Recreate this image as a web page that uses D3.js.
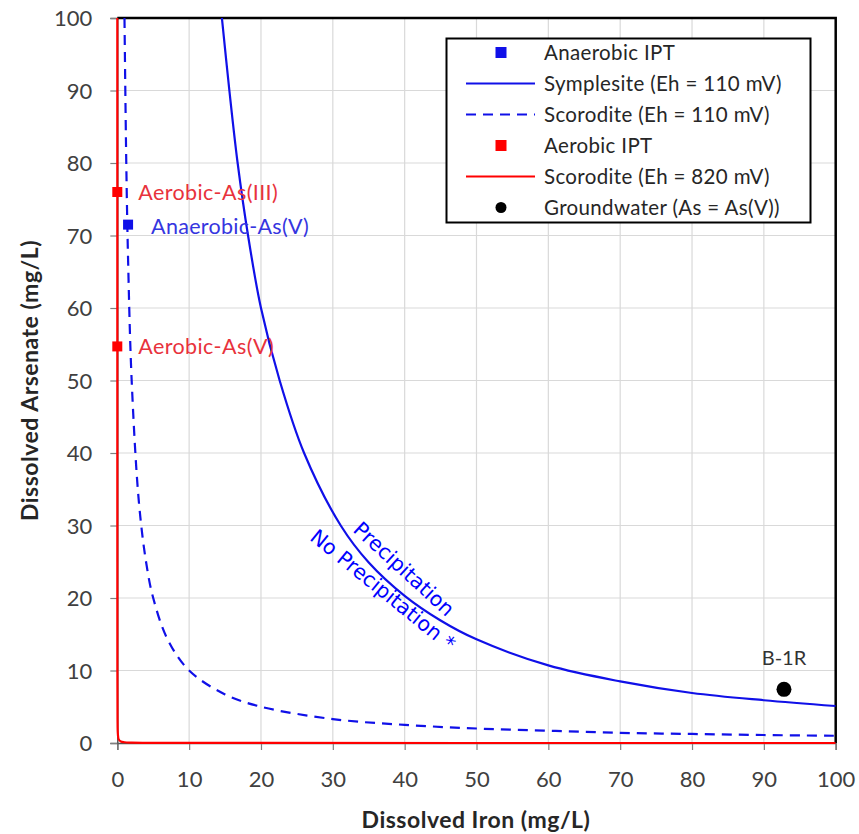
<!DOCTYPE html>
<html>
<head>
<meta charset="utf-8">
<script src="https://cdn.jsdelivr.net/npm/d3@7"></script>
<style>
  html, body { margin: 0; padding: 0; background: #fff; }
  svg { display: block; }
</style>
</head>
<body>
<div id="chart"></div>
<script>
// Solubility curves: dissolved iron (x) vs. dissolved arsenate (y), mg/L
const symplesiteFe = [14.56, 15.6, 16.75, 18.2, 20.0, 22.6, 26.0, 31.1, 35, 40, 45, 50, 60, 70, 80, 90, 100];
const symplesiteAs = [100, 90, 80, 70, 60, 50, 40, 30, 24.9, 20.3, 16.9, 14.3, 10.7, 8.5, 6.9, 5.9, 5.1];

const scorodite110Fe = [1, 1.25, 1.5, 2, 3, 4, 5, 7, 10, 15, 20, 30, 40, 50, 60, 70, 80, 90, 100];
const scorodite110As = [100, 80, 66.7, 50, 33.3, 25, 20, 14.3, 10, 6.7, 5, 3.3, 2.5, 2, 1.7, 1.4, 1.25, 1.1, 1.0];

const scorodite820Fe = [0.001, 0.0015, 0.002, 0.004, 0.01, 0.03, 0.08, 0.2, 0.5, 1, 2, 5, 10, 20, 50, 100];
const scorodite820As = [100, 66.7, 50, 25, 10, 3.3, 1.25, 0.5, 0.2, 0.1, 0.05, 0.02, 0.01, 0.005, 0.002, 0.001];

// Measured samples
const anaerobicNames = ["Anaerobic-As(V)"];
const anaerobicFe = [1.5];
const anaerobicAs = [71.5];

const aerobicNames = ["Aerobic-As(III)", "Aerobic-As(V)"];
const aerobicFe = [0, 0];
const aerobicAs = [76, 54.7];

const groundwaterNames = ["B-1R"];
const groundwaterFe = [92.8];
const groundwaterAs = [7.4];

const xTicks = [0, 10, 20, 30, 40, 50, 60, 70, 80, 90, 100];
const yTicks = [0, 10, 20, 30, 40, 50, 60, 70, 80, 90, 100];

const legendLabels = [
  "Anaerobic IPT",
  "Symplesite (Eh = 110 mV)",
  "Scorodite (Eh = 110 mV)",
  "Aerobic IPT",
  "Scorodite (Eh = 820 mV)",
  "Groundwater (As = As(V))"
];

const W = 859, H = 834;
const pLeft = 117.3, pRight = 835.7, pTop = 18, pBottom = 743;

const BLUE = "#1010e8";
const RED = "#ff0000";
const FONT = "Lato, 'Open Sans', sans-serif";

const svg = d3.select("#chart").append("svg")
  .attr("width", W).attr("height", H)
  .style("font-family", FONT);

const x = d3.scaleLinear().domain([0, 100]).range([pLeft, pRight]);
const y = d3.scaleLinear().domain([0, 100]).range([pBottom, pTop]);

// Grid
const grid = svg.append("g").attr("stroke", "#d9d9d9").attr("stroke-width", 1.2);
grid.selectAll("line.v").data(xTicks.slice(1, -1)).join("line")
  .attr("x1", d => x(d)).attr("x2", d => x(d))
  .attr("y1", pTop).attr("y2", pBottom);
grid.selectAll("line.h").data(yTicks.slice(1, -1)).join("line")
  .attr("x1", pLeft).attr("x2", pRight)
  .attr("y1", d => y(d)).attr("y2", d => y(d));

// Axes
const xAxis = svg.append("g").attr("transform", `translate(0,${pBottom})`)
  .call(d3.axisBottom(x).tickValues(xTicks).tickSize(7).tickPadding(21));
const yAxis = svg.append("g").attr("transform", `translate(${pLeft},0)`)
  .call(d3.axisLeft(y).tickValues(yTicks).tickSize(7).tickPadding(18));
[xAxis, yAxis].forEach(a => {
  a.select(".domain").attr("stroke", "#555").attr("stroke-width", 1.5);
  a.selectAll(".tick line").attr("stroke", "#808080").attr("stroke-width", 1.2);
  a.selectAll(".tick text").attr("fill", "#404040")
    .style("font-family", FONT).style("font-size", "22px");
});
yAxis.selectAll(".tick text").attr("dy", "0.36em");

// Top and right frame
svg.append("path")
  .attr("d", `M${pLeft},${pTop}H${pRight}V${pBottom}`)
  .attr("fill", "none").attr("stroke", "#000").attr("stroke-width", 2.5);

// Curves, clipped to the plot area
svg.append("clipPath").attr("id", "plot-clip")
  .append("rect").attr("x", pLeft - 2).attr("y", pTop).attr("width", pRight - pLeft + 2).attr("height", pBottom - pTop + 2);
const plot = svg.append("g").attr("clip-path", "url(#plot-clip)");

const line = d3.line().x(d => x(d[0])).y(d => y(d[1])).curve(d3.curveCatmullRom.alpha(0.5));
const zip = (a, b) => a.map((v, i) => [v, b[i]]);

plot.append("path").datum(zip(scorodite820Fe, scorodite820As))
  .attr("d", line).attr("fill", "none").attr("stroke", RED).attr("stroke-width", 2.2);
plot.append("path").datum(zip(scorodite110Fe, scorodite110As))
  .attr("d", line).attr("fill", "none").attr("stroke", BLUE).attr("stroke-width", 2.2)
  .attr("stroke-dasharray", "10,7");
plot.append("path").datum(zip(symplesiteFe, symplesiteAs))
  .attr("d", line).attr("fill", "none").attr("stroke", BLUE).attr("stroke-width", 2.2);

// Sample points
const sq = 10;
svg.selectAll("rect.aer").data(aerobicFe).join("rect")
  .attr("x", (d) => x(d) - sq / 2).attr("y", (d, i) => y(aerobicAs[i]) - sq / 2)
  .attr("width", sq).attr("height", sq).attr("fill", RED);
svg.selectAll("rect.ana").data(anaerobicFe).join("rect")
  .attr("x", (d) => x(d) - sq / 2).attr("y", (d, i) => y(anaerobicAs[i]) - sq / 2)
  .attr("width", sq).attr("height", sq).attr("fill", BLUE);
svg.selectAll("circle.gw").data(groundwaterFe).join("circle")
  .attr("cx", d => x(d)).attr("cy", (d, i) => y(groundwaterAs[i]))
  .attr("r", 7.5).attr("fill", "#000");

// Point labels
svg.selectAll("text.aer").data(aerobicNames).join("text")
  .attr("x", (d, i) => x(aerobicFe[i]) + 21).attr("y", (d, i) => y(aerobicAs[i]))
  .attr("dy", "0.35em").attr("fill", "#e8323c").style("font-size", "21.5px")
  .style("letter-spacing", "0.4px").text(d => d);
svg.selectAll("text.ana").data(anaerobicNames).join("text")
  .attr("x", (d, i) => x(anaerobicFe[i]) + 23).attr("y", (d, i) => y(anaerobicAs[i]) + 2)
  .attr("dy", "0.35em").attr("fill", "#3535e0").style("font-size", "21.5px")
  .style("letter-spacing", "0.3px").text(d => d);
svg.selectAll("text.gw").data(groundwaterNames).join("text")
  .attr("x", (d, i) => x(groundwaterFe[i])).attr("y", (d, i) => y(groundwaterAs[i]) - 24)
  .attr("text-anchor", "middle").attr("fill", "#333").style("font-size", "20px").text(d => d);

// Region labels along the symplesite curve
svg.append("text")
  .attr("transform", `translate(404,569) rotate(42.5)`)
  .attr("text-anchor", "middle").attr("dy", "0.35em")
  .attr("fill", "#0000ff").style("font-family", "'DejaVu Sans', sans-serif").style("font-size", "20.5px")
  .text("Precipitation");
svg.append("text")
  .attr("transform", `translate(383,590) rotate(39)`)
  .attr("text-anchor", "middle").attr("dy", "0.35em")
  .attr("fill", "#0000ff").style("font-family", "'DejaVu Sans', sans-serif").style("font-size", "20.5px")
  .text("No Precipitation *");

// Axis titles
svg.append("text").attr("x", 476).attr("y", 828)
  .attr("text-anchor", "middle").attr("fill", "#262626")
  .style("font-size", "23px").style("font-weight", "bold").style("letter-spacing", "0.5px")
  .text("Dissolved Iron (mg/L)");
svg.append("text")
  .attr("transform", `translate(38,${(pTop + pBottom) / 2}) rotate(-90)`)
  .attr("text-anchor", "middle").attr("fill", "#262626")
  .style("font-size", "23px").style("font-weight", "bold").style("letter-spacing", "0.5px")
  .text("Dissolved Arsenate (mg/L)");

// Legend
const lg = svg.append("g");
lg.append("rect").attr("x", 446.5).attr("y", 38.5).attr("width", 364).attr("height", 184)
  .attr("fill", "#fff").attr("stroke", "#000").attr("stroke-width", 2);
const rowY = i => 52.5 + i * 31;
const symX = 501;
legendLabels.forEach((label, i) => {
  const yy = rowY(i);
  if (i === 0 || i === 3) {
    lg.append("rect").attr("x", symX - 5.5).attr("y", yy - 5.5).attr("width", 11).attr("height", 11)
      .attr("fill", i === 0 ? BLUE : RED);
  } else if (i === 5) {
    lg.append("circle").attr("cx", symX).attr("cy", yy).attr("r", 5.5).attr("fill", "#000");
  } else {
    lg.append("line").attr("x1", 466).attr("x2", 535).attr("y1", yy).attr("y2", yy)
      .attr("stroke", i === 4 ? RED : BLUE).attr("stroke-width", 2)
      .attr("stroke-dasharray", i === 2 ? "10,7" : null);
  }
  lg.append("text").attr("x", 544).attr("y", yy).attr("dy", "0.35em")
    .attr("fill", "#262626").style("font-size", "20.5px").style("letter-spacing", "0.35px")
    .text(label);
});
</script>
</body>
</html>
